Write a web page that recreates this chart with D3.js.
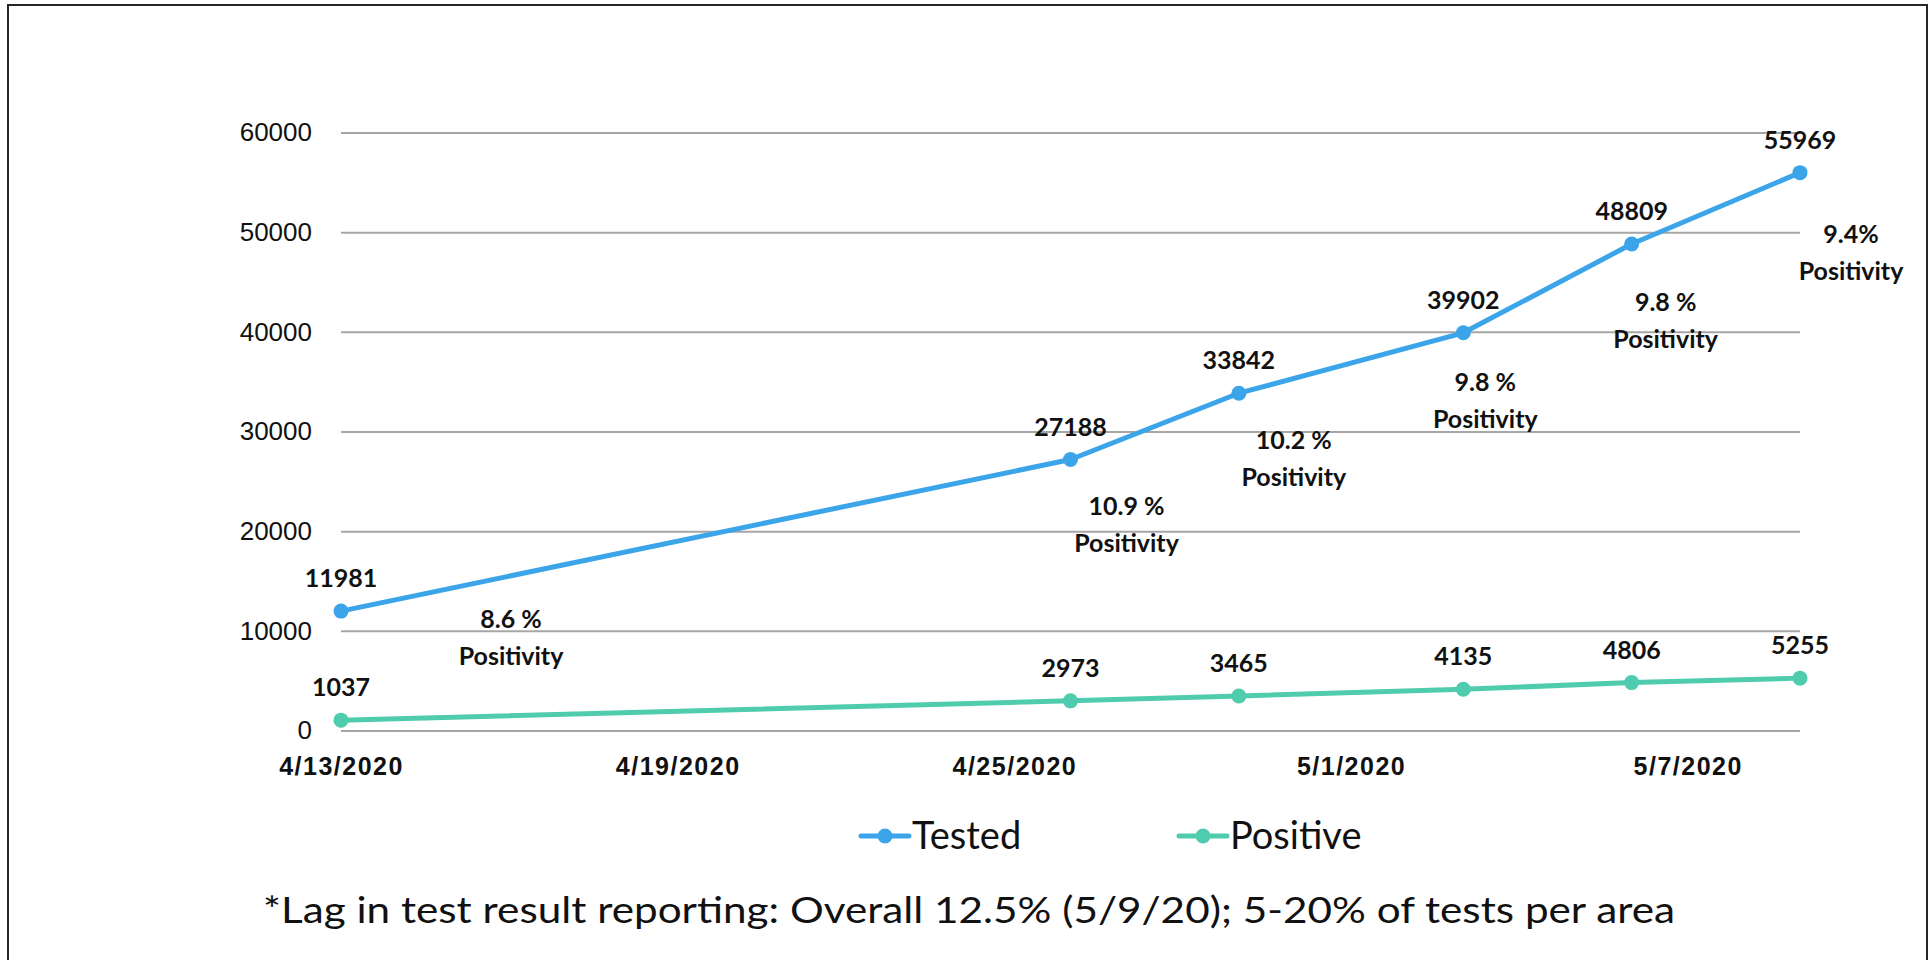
<!DOCTYPE html>
<html>
<head>
<meta charset="utf-8">
<script src="https://cdn.jsdelivr.net/npm/d3@7"></script>
<style>
	body { margin: 0; background: #fff; }
	svg { display: block; font-family: Lato, "Open Sans", sans-serif; }
	.grid line { stroke: #a6a6a6; stroke-width: 2; }
	.ylab { font-size: 26px; fill: #111; }
	.xlab { font-size: 25px; font-weight: bold; fill: #111; letter-spacing: 1.5px; }
	.val { font-size: 25px; font-weight: bold; fill: #111; text-anchor: middle; }
	.note { font-size: 25px; font-weight: bold; fill: #111; text-anchor: middle; }
</style>
</head>
<body>
<div id="vis"></div>
<script>
// data
const dates = ["4/13/2020", "4/26/2020", "4/29/2020", "5/3/2020", "5/6/2020", "5/9/2020"];
const tested = [11981, 27188, 33842, 39902, 48809, 55969];
const positive = [1037, 2973, 3465, 4135, 4806, 5255];
const positivity = ["8.6 %", "10.9 %", "10.2 %", "9.8 %", "9.8 %", "9.4%"];
const xTickLabels = ["4/13/2020", "4/19/2020", "4/25/2020", "5/1/2020", "5/7/2020"];
const yTicks = [0, 10000, 20000, 30000, 40000, 50000, 60000];
const seriesNames = ["Tested", "Positive"];

// layout
const FRAME_WIDTH = 1931;
const FRAME_HEIGHT = 960;
const PLOT = {left: 341, right: 1800, top: 132.5, bottom: 730.5};
const COLORS = ["#3ca5ea", "#4fccad"];
// where each positivity note sits relative to its point (dx to centre, dy to first baseline)
const noteOffsets = [[170, 17], [56, 55], [55, 56], [22, 58], [34, 67], [51, 70]];

const parseDate = d3.utcParse("%m/%d/%Y");

const FRAME = d3.select("#vis")
	.append("svg")
		.attr("width", FRAME_WIDTH)
		.attr("height", FRAME_HEIGHT);

// border of the slide box
FRAME.append("path")
	.attr("d", `M8,${FRAME_HEIGHT + 5} V5 H1927 V${FRAME_HEIGHT + 5}`)
	.attr("fill", "none")
	.attr("stroke", "#262626")
	.attr("stroke-width", 2);

const X_SCALE = d3.scaleUtc()
	.domain([parseDate(dates[0]), parseDate(dates[dates.length - 1])])
	.range([PLOT.left, PLOT.right]);

const Y_SCALE = d3.scaleLinear()
	.domain([0, 60000])
	.range([PLOT.bottom, PLOT.top]);

// gridlines + y labels
const yAxis = FRAME.append("g")
	.attr("class", "grid")
	.attr("transform", `translate(${PLOT.left},0)`)
	.call(d3.axisLeft(Y_SCALE)
		.tickValues(yTicks)
		.tickFormat(d3.format("d"))
		.tickSizeInner(-(PLOT.right - PLOT.left))
		.tickSizeOuter(0)
		.tickPadding(29));
yAxis.select(".domain").remove();
yAxis.selectAll("text")
	.attr("class", "ylab")
	.attr("fill", null)
	.attr("font-family", null)
	.attr("font-size", null);

// x labels
const xAxis = FRAME.append("g")
	.attr("transform", `translate(0,${PLOT.bottom})`)
	.call(d3.axisBottom(X_SCALE)
		.tickValues(xTickLabels.map(parseDate))
		.tickFormat((d, i) => xTickLabels[i])
		.tickSize(0));
xAxis.select(".domain").remove();
xAxis.selectAll("text")
	.attr("class", "xlab")
	.attr("fill", null)
	.attr("font-family", null)
	.attr("font-size", null)
	.attr("dy", null)
	.attr("y", 44);

const allSeries = [tested, positive];

allSeries.forEach((vals, s) => {
	const pts = vals.map((v, i) => ({x: X_SCALE(parseDate(dates[i])), y: Y_SCALE(v), v: v}));

	FRAME.append("path")
		.datum(pts)
		.attr("fill", "none")
		.attr("stroke", COLORS[s])
		.attr("stroke-width", 5)
		.attr("stroke-linejoin", "round")
		.attr("d", d3.line().x((d) => d.x).y((d) => d.y));

	FRAME.selectAll(".pt" + s)
		.data(pts)
		.enter()
		.append("circle")
			.attr("cx", (d) => d.x)
			.attr("cy", (d) => d.y)
			.attr("r", 7.5)
			.attr("fill", COLORS[s]);

	FRAME.selectAll(".val" + s)
		.data(pts)
		.enter()
		.append("text")
			.attr("class", "val")
			.attr("x", (d) => d.x)
			.attr("y", (d) => d.y - 24)
			.text((d) => d.v);
});

// positivity notes next to the tested points
positivity.forEach((p, i) => {
	const px = X_SCALE(parseDate(dates[i])) + noteOffsets[i][0];
	const py = Y_SCALE(tested[i]) + noteOffsets[i][1];
	const t = FRAME.append("text")
		.attr("class", "note")
		.attr("x", px)
		.attr("y", py);
	t.append("tspan").attr("x", px).text(p);
	t.append("tspan").attr("x", px).attr("dy", 37).text("Positivity");
});

// legend
const legendX = [861, 1179];
seriesNames.forEach((name, s) => {
	const g = FRAME.append("g").attr("transform", `translate(${legendX[s]},836)`);
	g.append("line")
		.attr("x1", 0).attr("x2", 48)
		.attr("stroke", COLORS[s])
		.attr("stroke-width", 5)
		.attr("stroke-linecap", "round");
	g.append("circle")
		.attr("cx", 24)
		.attr("r", 7.5)
		.attr("fill", COLORS[s]);
	g.append("text")
		.attr("x", 51)
		.attr("y", 13)
		.attr("font-size", 38)
		.attr("fill", "#111")
		.text(name);
});

// footnote
FRAME.append("text")
	.attr("x", 263)
	.attr("y", 923)
	.attr("font-size", 37)
	.attr("fill", "#111")
	.attr("textLength", 1412)
	.attr("lengthAdjust", "spacingAndGlyphs")
	.text("*Lag in test result reporting: Overall 12.5% (5/9/20); 5-20% of tests per area");
</script>
</body>
</html>
